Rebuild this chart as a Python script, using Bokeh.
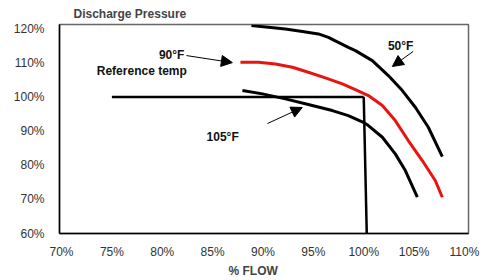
from bokeh.plotting import figure
from bokeh.models import Range1d, FixedTicker, Arrow, NormalHead, Label, Title
from bokeh.embed import file_html
from bokeh.resources import INLINE

# Discharge pressure (% of rated) versus % flow, for three condenser temperatures
flow_50F = [88.85, 90.54, 92.22, 93.91, 95.5, 96.49, 97.48, 98.47, 99.17,
            100.85, 102.44, 103.83, 105.12, 106.41, 107.8]
pres_50F = [120.87, 120.37, 119.91, 119.12, 118.44, 117.45, 115.99, 114.52,
            113.56, 110.63, 106.24, 101.85, 96.96, 91.11, 82.53]

flow_90F = [87.76, 89.54, 91.23, 92.92, 94.5, 96.19, 97.88, 99.17, 100.46,
            101.85, 103.13, 104.42, 105.81, 107.1, 107.8]
pres_90F = [110.13, 110.13, 109.66, 108.67, 107.21, 105.57, 103.81, 102.14,
            100.39, 97.47, 93.07, 87.22, 81.36, 75.51, 70.62]

flow_105F = [87.96, 89.94, 92.22, 94.5, 96.88, 98.47, 99.96, 100.46, 101.85,
             103.13, 104.13, 105.32]
pres_105F = [101.85, 100.88, 99.42, 97.79, 96.0, 94.53, 92.57, 91.61, 88.18,
             83.32, 78.44, 70.62]

# Reference operating point: 100% flow at 100% pressure
ref_h_flow = [75.0, 100.0]
ref_h_pres = [100.0, 100.0]
ref_v_flow = [100.0, 100.3]
ref_v_pres = [100.0, 60.0]

x_ticks = [70, 75, 80, 85, 90, 95, 100, 105, 110]
x_tick_labels = ["70%", "75%", "80%", "85%", "90%", "95%", "100%", "105%", "110%"]
y_ticks = [60, 70, 80, 90, 100, 110, 120]
y_tick_labels = ["60%", "70%", "80%", "90%", "100%", "110%", "120%"]

FONT = "Liberation Sans"

p = figure(width=500, height=280, output_backend="svg", toolbar_location=None,
           x_range=Range1d(69.8, 110.4), y_range=Range1d(60, 121.2),
           min_border_left=59, min_border_right=32, min_border_top=24,
           min_border_bottom=47)
p.background_fill_color = "white"
p.border_fill_color = "white"
p.outline_line_color = "#666666"
p.outline_line_width = 1.5
p.grid.visible = False

p.title.text = "Discharge Pressure"
p.title.text_font = FONT
p.title.text_font_size = "12px"
p.title.text_font_style = "bold"
p.title.align = "left"
p.title.offset = 14
p.title.standoff = 7

for ax, ticks, labels in ((p.xaxis[0], x_ticks, x_tick_labels),
                          (p.yaxis[0], y_ticks, y_tick_labels)):
    ax.ticker = FixedTicker(ticks=ticks)
    ax.major_label_overrides = {t: l for t, l in zip(ticks, labels)}
    ax.major_tick_line_color = None
    ax.minor_tick_line_color = None
    ax.axis_line_color = "black"
    ax.axis_line_width = 1.5
    ax.major_label_text_font = FONT
    ax.major_label_text_font_size = "12px"
    ax.major_label_text_color = "#333333"
p.xaxis.major_label_standoff = 5
p.yaxis.major_label_standoff = 9

p.add_layout(Title(text="% FLOW", text_font=FONT, text_font_size="12px",
                   text_font_style="bold", align="left", offset=169,
                   standoff=0), "below")

# Reference lines
p.line(ref_h_flow, ref_h_pres, line_color="black", line_width=2.5)
p.line(ref_v_flow, ref_v_pres, line_color="black", line_width=2.5)

# Temperature curves
p.line(flow_50F, pres_50F, line_color="black", line_width=3, line_join="round")
p.line(flow_105F, pres_105F, line_color="black", line_width=3, line_join="round")
p.line(flow_90F, pres_90F, line_color="#e8140f", line_width=3, line_join="round")

# Callout arrows
for (x0, y0, x1, y1) in ((82.4, 112.1, 86.96, 110.04),
                         (90.44, 92.19, 93.9, 96.9),
                         (104.9, 113.3, 102.84, 108.9)):
    p.add_layout(Arrow(x_start=x0, y_start=y0, x_end=x1, y_end=y1,
                       line_color="black", line_width=1,
                       end=NormalHead(size=11, fill_color="black",
                                      line_color="black")))

def note(x, y, text, align="left"):
    p.add_layout(Label(x=x, y=y, text=text, text_font=FONT,
                       text_font_size="12px", text_font_style="bold",
                       text_align=align, text_baseline="middle",
                       text_color="#111111"))

note(82.2, 112.3, "90°F", align="right")
note(73.5, 107.7, "Reference temp")
note(84.4, 88.2, "105°F")
note(102.4, 115.0, "50°F")

open("out.html", "w").write(file_html(p, INLINE))
